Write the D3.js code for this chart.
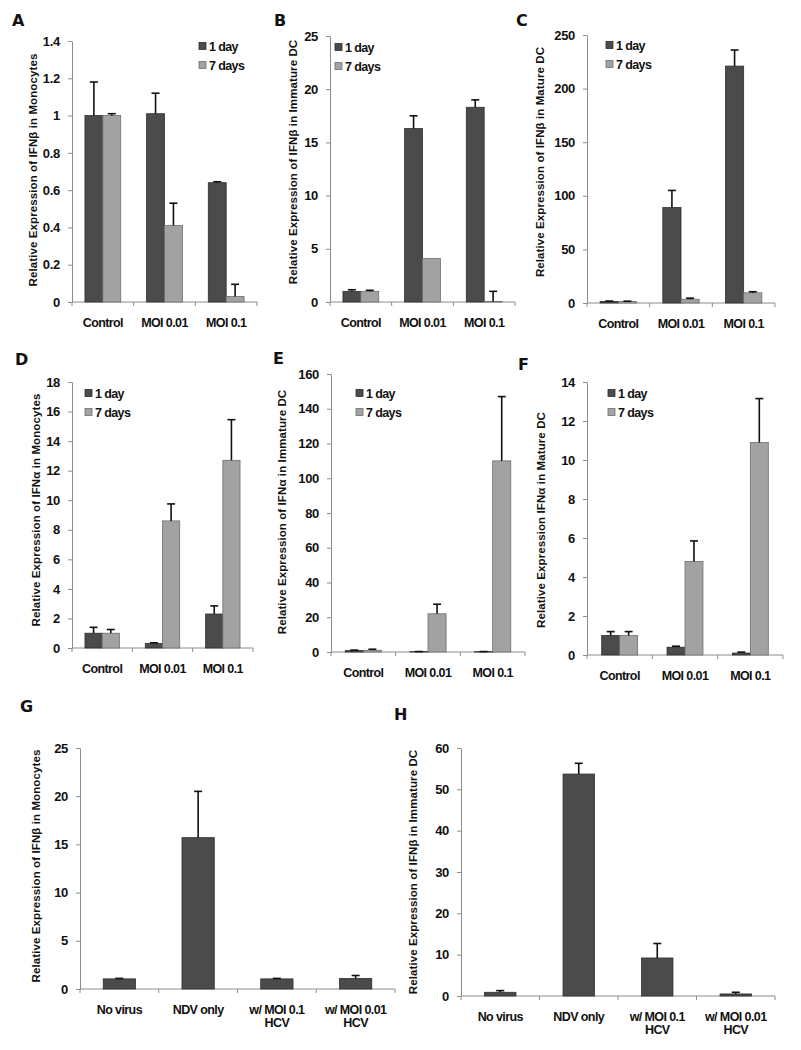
<!DOCTYPE html>
<html>
<head>
<meta charset="utf-8">
<script src="https://cdn.jsdelivr.net/npm/d3@7/dist/d3.min.js"></script>
<style>
body { margin: 0; background: #fff; }
text { font-family: Arial, "Liberation Sans", sans-serif; font-weight: bold; fill: #111; }
</style>
</head>
<body>
<div id="chart"></div>
<script>
// categories
var moiGroups = ["Control", "MOI 0.01", "MOI 0.1"]
var seriesNames = ["1 day", "7 days"]
var virusGroups = ["No virus", "NDV only", "w/ MOI 0.1\nHCV", "w/ MOI 0.01\nHCV"]

// A - IFNb in monocytes
var a_day1 = [1.0, 1.01, 0.64]
var a_day1Err = [0.18, 0.11, 0.005]
var a_day7 = [1.0, 0.41, 0.03]
var a_day7Err = [0.01, 0.12, 0.065]

// B - IFNb in immature DC
var b_day1 = [1.0, 16.3, 18.3]
var b_day1Err = [0.15, 1.2, 0.7]
var b_day7 = [1.0, 4.1, 0.05]
var b_day7Err = [0.1, 0, 0.95]

// C - IFNb in mature DC
var c_day1 = [1.5, 89, 221]
var c_day1Err = [0.3, 16, 15]
var c_day7 = [1.5, 3.5, 9.5]
var c_day7Err = [0.2, 1.0, 1.0]

// D - IFNa in monocytes
var d_day1 = [1.0, 0.3, 2.3]
var d_day1Err = [0.4, 0.05, 0.55]
var d_day7 = [1.0, 8.6, 12.7]
var d_day7Err = [0.25, 1.15, 2.75]

// E - IFNa in immature DC
var e_day1 = [0.8, 0.2, 0.2]
var e_day1Err = [0.3, 0.05, 0.05]
var e_day7 = [1.0, 22, 110]
var e_day7Err = [0.6, 5.5, 37]

// F - IFNa in mature DC
var f_day1 = [1.0, 0.4, 0.1]
var f_day1Err = [0.2, 0.05, 0.05]
var f_day7 = [1.0, 4.8, 10.9]
var f_day7Err = [0.2, 1.05, 2.25]

// G, H - IFNb after NDV
var g_vals = [1.05, 15.7, 1.05, 1.1]
var g_err = [0.05, 4.8, 0.05, 0.3]
var h_vals = [0.9, 53.7, 9.2, 0.5]
var h_err = [0.4, 2.6, 3.5, 0.4]

// y axis maxima
var a_max = 1.4, b_max = 25, c_max = 250, d_max = 18, e_max = 160, f_max = 14, g_max = 25, h_max = 60

var colors = ["#4b4b4b", "#a2a2a2"]
var strokes = ["#2e2e2e", "#6e6e6e"]

var svg = d3.select("#chart")
    .append("svg")
    .attr("width", 801)
    .attr("height", 1050)

function drawPanel(p) {
    var g = svg.append("g")

    var scale_y = d3.scaleLinear()
        .domain([0, p.max])
        .range([p.y0, p.yTop])

    var scale_x = d3.scaleBand()
        .domain(p.cats)
        .range([p.x0, p.x1])
        .paddingInner(p.pad)
        .paddingOuter(p.pad / 2)

    var scale_s = d3.scaleBand()
        .domain(d3.range(p.series.length))
        .range([0, scale_x.bandwidth()])

    // y axis
    var yAxis = g.append("g")
        .attr("transform", "translate(" + p.x0 + ",0)")
        .call(d3.axisLeft(scale_y)
            .tickValues(d3.ticks(0, p.max, p.nt))
            .tickFormat(d3.format("~g"))
            .tickSize(4)
            .tickSizeOuter(0)
            .tickPadding(8))
    yAxis.select(".domain").attr("stroke", "#8c8c8c")
    yAxis.selectAll(".tick line").attr("stroke", "#8c8c8c")
    yAxis.selectAll("text")
        .style("font-family", "Arial, 'Liberation Sans', sans-serif")
        .style("font-weight", "bold")
        .style("font-size", "13px")
        .style("letter-spacing", "-0.3px")
        .attr("fill", "#111")

    // x axis with ticks between categories
    g.append("line")
        .attr("x1", p.x0).attr("x2", p.x1)
        .attr("y1", p.y0).attr("y2", p.y0)
        .attr("stroke", "#8c8c8c")
    g.selectAll("xtick")
        .data(d3.range(p.cats.length + 1))
        .enter()
        .append("line")
        .attr("x1", d => p.x0 + d * scale_x.step())
        .attr("x2", d => p.x0 + d * scale_x.step())
        .attr("y1", p.y0)
        .attr("y2", p.y0 + 4)
        .attr("stroke", "#8c8c8c")

    // category labels
    p.cats.forEach(function(c) {
        var lines = c.split("\n")
        var t = g.append("text")
            .attr("x", scale_x(c) + scale_x.bandwidth() / 2)
            .attr("y", p.y0 + 25)
            .attr("text-anchor", "middle")
            .style("font-size", "12.5px")
            .style("letter-spacing", "-0.6px")
        lines.forEach(function(l, i) {
            t.append("tspan")
                .attr("x", scale_x(c) + scale_x.bandwidth() / 2)
                .attr("dy", i == 0 ? 0 : 13)
                .text(l)
        })
    })

    // bars and error bars
    p.series.forEach(function(s, si) {
        p.cats.forEach(function(c, ci) {
            var bx = scale_x(c) + scale_s(si)
            var bw = scale_s.bandwidth()
            var v = s.vals[ci]
            g.append("rect")
                .attr("x", bx)
                .attr("y", scale_y(v))
                .attr("width", bw)
                .attr("height", p.y0 - scale_y(v))
                .attr("fill", colors[si])
                .attr("stroke", strokes[si])
                .attr("stroke-width", 0.8)
            if (s.err[ci] > 0) {
                var top = scale_y(v + s.err[ci])
                g.append("line")
                    .attr("x1", bx + bw / 2).attr("x2", bx + bw / 2)
                    .attr("y1", scale_y(v)).attr("y2", top)
                    .attr("stroke", "#111").attr("stroke-width", 1.6)
                g.append("line")
                    .attr("x1", bx + bw / 2 - 4).attr("x2", bx + bw / 2 + 4)
                    .attr("y1", top).attr("y2", top)
                    .attr("stroke", "#111").attr("stroke-width", 1.6)
            }
        })
    })

    // legend
    if (p.legend) {
        p.series.forEach(function(s, si) {
            g.append("rect")
                .attr("x", p.legend[0])
                .attr("y", p.legend[1] + si * 19 - 3.5)
                .attr("width", 7).attr("height", 7)
                .attr("fill", colors[si])
                .attr("stroke", strokes[si])
                .attr("stroke-width", 0.8)
            g.append("text")
                .attr("x", p.legend[0] + 10)
                .attr("y", p.legend[1] + si * 19 + 4.5)
                .style("font-size", "12.5px")
                .style("letter-spacing", "-0.6px")
                .text(seriesNames[si])
        })
    }

    // y title
    g.append("text")
        .attr("transform", "translate(" + p.titleX + "," + p.titleY + ") rotate(-90)")
        .attr("text-anchor", "middle")
        .style("font-size", "11.5px")
        .style("letter-spacing", "0.1px")
        .text(p.title)

    // panel letter
    g.append("text")
        .attr("x", p.letterPos[0])
        .attr("y", p.letterPos[1])
        .style("font-family", "'DejaVu Sans', sans-serif")
        .style("font-size", "16px")
        .text(p.letter)
}

drawPanel({letter: "A", letterPos: [12, 26], cats: moiGroups, max: a_max, nt: 7,
    x0: 72, x1: 257, y0: 302, yTop: 41, pad: 0.42, legend: [199, 46],
    title: "Relative Expression of IFNβ in Monocytes", titleX: 37, titleY: 170,
    series: [{vals: a_day1, err: a_day1Err}, {vals: a_day7, err: a_day7Err}]})

drawPanel({letter: "B", letterPos: [274, 26], cats: moiGroups, max: b_max, nt: 5,
    x0: 330, x1: 515, y0: 302, yTop: 36, pad: 0.42, legend: [335, 47],
    title: "Relative Expression of IFNβ in Immature DC", titleX: 297, titleY: 162,
    series: [{vals: b_day1, err: b_day1Err}, {vals: b_day7, err: b_day7Err}]})

drawPanel({letter: "C", letterPos: [516, 26], cats: moiGroups, max: c_max, nt: 5,
    x0: 587, x1: 775, y0: 303, yTop: 35, pad: 0.42, legend: [606, 45],
    title: "Relative Expression of IFNβ in Mature DC", titleX: 544, titleY: 162,
    series: [{vals: c_day1, err: c_day1Err}, {vals: c_day7, err: c_day7Err}]})

drawPanel({letter: "D", letterPos: [15, 365], cats: moiGroups, max: d_max, nt: 9,
    x0: 72, x1: 253, y0: 648, yTop: 382, pad: 0.43, legend: [85, 393],
    title: "Relative Expression of IFNα in Monocytes", titleX: 40, titleY: 510,
    series: [{vals: d_day1, err: d_day1Err}, {vals: d_day7, err: d_day7Err}]})

drawPanel({letter: "E", letterPos: [273, 364], cats: moiGroups, max: e_max, nt: 8,
    x0: 331, x1: 525, y0: 652, yTop: 374, pad: 0.44, legend: [356, 393],
    title: "Relative Expression of IFNα in Immature DC", titleX: 286, titleY: 512,
    series: [{vals: e_day1, err: e_day1Err}, {vals: e_day7, err: e_day7Err}]})

drawPanel({letter: "F", letterPos: [518, 370], cats: moiGroups, max: f_max, nt: 7,
    x0: 587, x1: 783, y0: 655, yTop: 382, pad: 0.45, legend: [608, 393],
    title: "Relative Expression IFNα in Mature DC", titleX: 545, titleY: 520,
    series: [{vals: f_day1, err: f_day1Err}, {vals: f_day7, err: f_day7Err}]})

drawPanel({letter: "G", letterPos: [20, 712], cats: virusGroups, max: g_max, nt: 5,
    x0: 80, x1: 395, y0: 989, yTop: 748, pad: 0.59, legend: null,
    title: "Relative Expression of IFNβ in Monocytes", titleX: 40, titleY: 866,
    series: [{vals: g_vals, err: g_err}]})

drawPanel({letter: "H", letterPos: [394, 720], cats: virusGroups, max: h_max, nt: 6,
    x0: 461, x1: 775, y0: 996, yTop: 748, pad: 0.6, legend: null,
    title: "Relative Expression of IFNβ in Immature DC", titleX: 417, titleY: 872,
    series: [{vals: h_vals, err: h_err}]})
</script>
</body>
</html>
